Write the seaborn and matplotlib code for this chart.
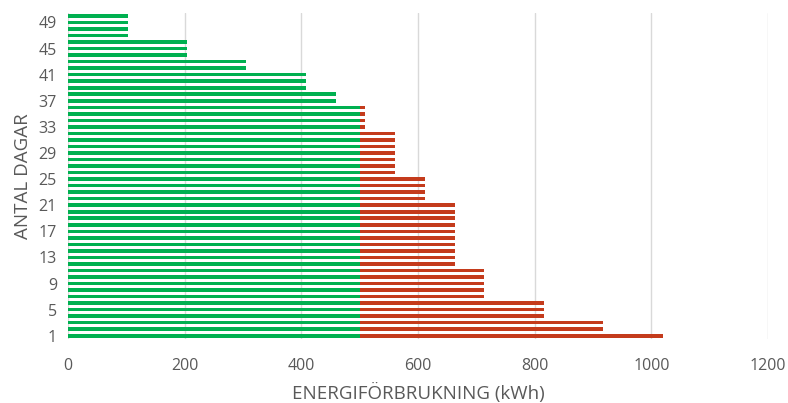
import matplotlib
matplotlib.use("Agg")
import matplotlib.pyplot as plt
import seaborn as sns
import pandas as pd

days = list(range(1, 51))
total_kwh = [1020, 918, 918, 816, 816, 816, 714, 714, 714, 714,
             714, 663, 663, 663, 663, 663, 663, 663, 663, 663,
             663, 612, 612, 612, 612, 561, 561, 561, 561, 561,
             561, 561, 510, 510, 510, 510, 459, 459, 408, 408,
             408, 306, 306, 204, 204, 204, 102, 102, 102, 102]
green_kwh = [500, 500, 500, 500, 500, 500, 500, 500, 500, 500,
             500, 500, 500, 500, 500, 500, 500, 500, 500, 500,
             500, 500, 500, 500, 500, 500, 500, 500, 500, 500,
             500, 500, 500, 500, 500, 500, 459, 459, 408, 408,
             408, 306, 306, 204, 204, 204, 102, 102, 102, 102]
tick_days = [1, 5, 9, 13, 17, 21, 25, 29, 33, 37, 41, 45, 49]
x_ticks = [0, 200, 400, 600, 800, 1000, 1200]

df = pd.DataFrame({"dag": [str(d) for d in days], "total": total_kwh, "green": green_kwh})
order = [str(d) for d in reversed(days)]

sns.set_style("white")
plt.rcParams['font.family'] = ['Open Sans', 'DejaVu Sans']

fig = plt.figure(figsize=(7.88, 4.03), dpi=100)
ax = fig.add_axes([0.0863, 0.1588, 0.8883, 0.8097])

text_col = "#595959"
sns.barplot(data=df, x="total", y="dag", order=order, orient="h", color="#C43B1C",
            saturation=1, width=0.55, ax=ax, linewidth=0, zorder=2)
sns.barplot(data=df, x="green", y="dag", order=order, orient="h", color="#00B050",
            saturation=1, width=0.55, ax=ax, linewidth=0, zorder=3)

ax.set_xlim(0, 1200)
ax.set_ylim(len(days) - 0.5, -0.5)
ax.set_xticks(x_ticks)
ax.set_xticklabels([str(t) for t in x_ticks])
pos = [order.index(str(d)) for d in tick_days]
ax.set_yticks(pos)
ax.set_yticklabels([str(d) for d in tick_days])
ax.grid(axis="x", color="#D9D9D9", linewidth=1.0, zorder=0)
ax.set_axisbelow(True)
for s in ax.spines.values():
    s.set_visible(False)
ax.tick_params(axis="both", length=0, colors=text_col, labelsize=11.5)
ax.tick_params(axis="x", pad=14)
ax.tick_params(axis="y", pad=8)
ax.set_xlabel("ENERGIFÖRBRUKNING (kWh)", color=text_col, fontsize=13.5, labelpad=6)
ax.set_ylabel("ANTAL DAGAR", color=text_col, fontsize=13.5, labelpad=5)

fig.savefig("out.png", dpi=100)
